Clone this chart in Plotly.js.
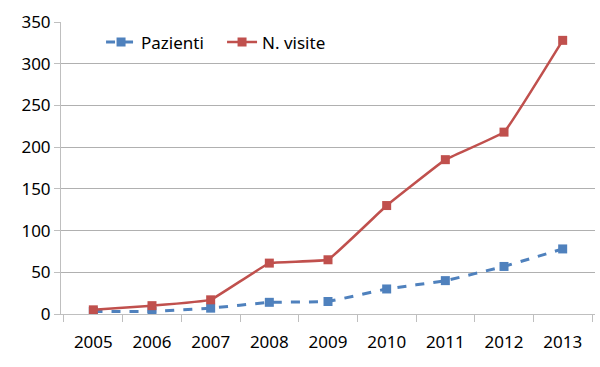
<!DOCTYPE html>
<html><head><meta charset="utf-8">
<script src="https://cdn.plot.ly/plotly-3.0.1.min.js"></script>
<style>body{margin:0;background:#fff}#c{width:600px;height:367px}</style>
</head><body><div id="c"></div>
<script>
const years = ["2005","2006","2007","2008","2009","2010","2011","2012","2013"];
const pazienti = [3, 3, 7, 14, 15, 30, 40, 57, 78];
const visite = [5, 10, 17, 61, 65, 130, 185, 218, 328];
const yTicks = [0,50,100,150,200,250,300,350];

const traces = [
  {x: years, y: pazienti, name: "Pazienti", type: "scatter", mode: "lines+markers",
   line: {color: "#4F81BD", width: 3, dash: "dash", shape: "spline", smoothing: 0.2},
   marker: {symbol: "square", size: 9, color: "#4F81BD"}},
  {x: years, y: visite, name: "N. visite", type: "scatter", mode: "lines+markers",
   line: {color: "#C0504D", width: 2.5, shape: "spline", smoothing: 0.2},
   marker: {symbol: "square", size: 9, color: "#C0504D"}}
];
const layout = {
  width: 600, height: 367,
  margin: {l: 61, r: 5, t: 22, b: 53},
  paper_bgcolor: "#fff", plot_bgcolor: "#fff",
  font: {family: "Noto Sans, sans-serif", size: 17, color: "#000"},
  showlegend: true,
  legend: {orientation: "h", x: 0.075, y: 0.93, xanchor: "left", yanchor: "middle",
    font: {size: 17}, bgcolor: "rgba(0,0,0,0)", entrywidth: 76, entrywidthmode: "pixels"},
  xaxis: {type: "category", showgrid: false, showline: true, linecolor: "#bfbfbf", linewidth: 1,
    ticks: "outside", tickson: "boundaries", ticklen: 7, tickcolor: "#bfbfbf",
    tickfont: {size: 17}, ticklabelstandoff: 13, zeroline: false},
  yaxis: {range: [0, 350], tickvals: yTicks, showgrid: true, gridcolor: "#b0b0b0", gridwidth: 1,
    showline: true, linecolor: "#bfbfbf", ticks: "outside", ticklen: 6, tickcolor: "#bfbfbf",
    tickfont: {size: 17}, zeroline: false, fixedrange: true}
};
Plotly.newPlot("c", traces, layout, {displayModeBar: false, staticPlot: true});
</script></body></html>
